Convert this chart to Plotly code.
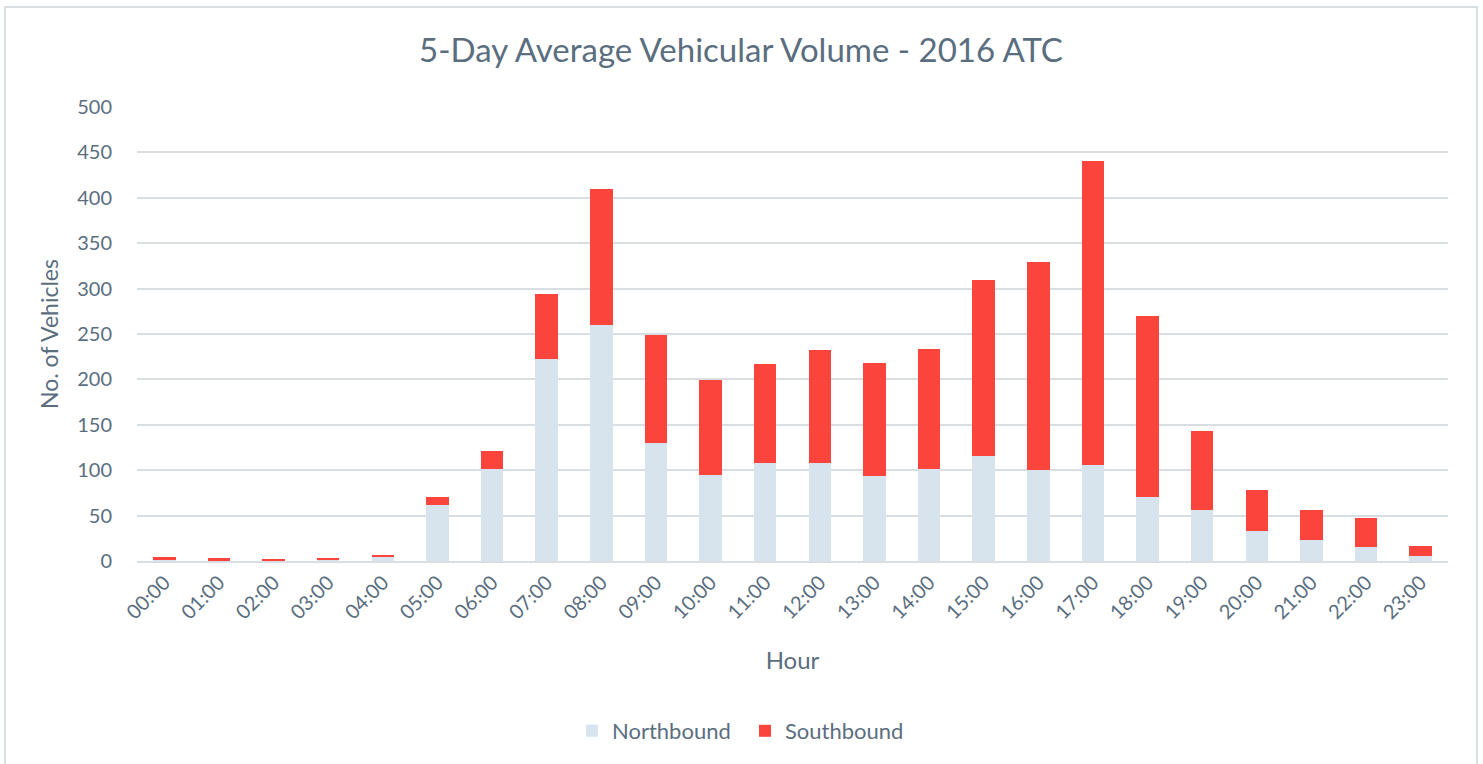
import plotly.graph_objects as go

hours = [f"{h:02d}:00" for h in range(24)]
northbound = [1, 0.5, 0.3, 1.5, 4.5, 62, 101, 223, 260, 130, 95, 108, 108, 94,
              101, 116, 100, 106, 71, 56, 33, 23, 15, 5]
southbound = [3, 3, 1, 1.5, 1.5, 9, 20, 71, 150, 119, 104, 109, 124, 124,
              133, 194, 229, 335, 199, 87, 45, 33, 32, 11]
y_ticks = [0, 50, 100, 150, 200, 250, 300, 350, 400, 450, 500]

text_color = "#5a6e80"
grid_color = "#d9dee3"
font_family = "Lato, Roboto, Arial, sans-serif"

fig = go.Figure()
fig.add_trace(go.Bar(x=hours, y=northbound, name="Northbound",
                     marker=dict(color="#d7e4ee", line=dict(width=0))))
fig.add_trace(go.Bar(x=hours, y=southbound, name="Southbound",
                     marker=dict(color="#fb443c", line=dict(width=0))))

W, H = 1483, 764
ml, mr, mt = 137, 35, 107
ph = 454
mb = H - mt - ph
pw = W - ml - mr


def px_x(x):
    return (x - ml) / pw


def px_y(y):
    return (mt + ph - y) / ph


fig.update_layout(
    width=W, height=H,
    barmode="stack",
    bargap=0.59,
    paper_bgcolor="white",
    plot_bgcolor="white",
    margin=dict(l=ml, r=mr, t=mt, b=mb, autoexpand=False),
    font=dict(family=font_family, color=text_color, size=20),
    title=dict(text="5-Day Average Vehicular Volume - 2016 ATC",
               x=741 / W, xref="container", xanchor="center",
               y=1 - 50 / H, yanchor="middle",
               font=dict(size=33, color=text_color, family=font_family)),
    legend=dict(orientation="h", x=px_x(745), xanchor="center", y=px_y(731), yanchor="middle",
                font=dict(size=22, color=text_color), traceorder="normal",
                itemwidth=30, entrywidth=128, entrywidthmode="pixels"),
    xaxis=dict(tickangle=-45, showgrid=False, showline=True, linecolor=grid_color,
               linewidth=2, ticks="", tickfont=dict(size=20, color=text_color),
               title=dict(text="Hour", font=dict(size=24, color=text_color), standoff=30)),
    yaxis=dict(range=[0, 500], tickvals=y_ticks, showgrid=True, gridcolor=grid_color,
               gridwidth=2, zeroline=False, showline=False,
               ticks="outside", ticklen=20, tickcolor="rgba(0,0,0,0)",
               tickfont=dict(size=20, color=text_color),
               title=dict(text="No. of Vehicles", font=dict(size=23, color=text_color),
                          standoff=12)),
    shapes=[dict(type="rect", xref="paper", yref="paper",
                 x0=px_x(5), x1=px_x(1477), y0=px_y(H + 30), y1=px_y(7),
                 line=dict(color=grid_color, width=2), fillcolor="rgba(0,0,0,0)",
                 layer="below")],
)

fig.write_html("out.html", config={"displayModeBar": False},
               post_script="document.body.style.margin='0';")
